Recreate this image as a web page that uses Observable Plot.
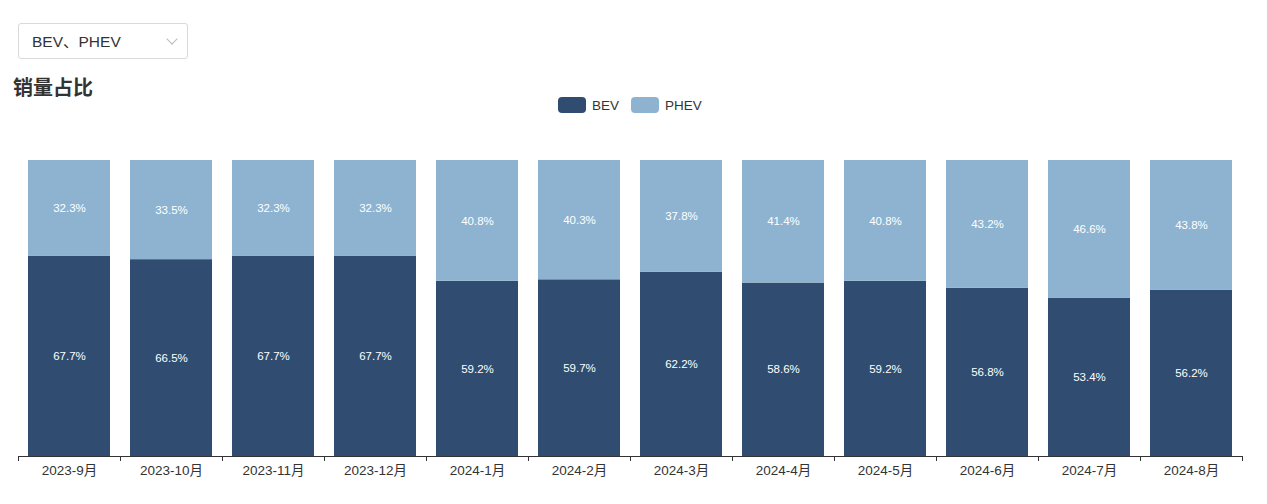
<!DOCTYPE html>
<html>
<head>
<meta charset="utf-8">
<script src="https://cdn.jsdelivr.net/npm/d3@7"></script>
<script src="https://cdn.jsdelivr.net/npm/@observablehq/plot@0.6"></script>
<style>
  body { margin: 0; background: #fff; font-family: "Helvetica Neue", Arial, "Liberation Sans", "Noto Sans CJK SC", sans-serif; color: #333; }
  #page { position: relative; width: 1267px; height: 504px; overflow: hidden; }
  #dropdown { position: absolute; left: 18px; top: 23px; width: 168px; height: 34px; border: 1px solid #d9d9d9; border-radius: 3px; box-sizing: content-box; }
  #dropdown .label { position: absolute; left: 13px; top: 5px; font-size: 15.5px; color: #333; }
  #dropdown .chev { position: absolute; left: 149px; top: 11px; width: 7px; height: 7px; border-right: 1px solid #bbb; border-bottom: 1px solid #bbb; transform: rotate(45deg); }
  #title { position: absolute; left: 13px; top: 72px; font-size: 20px; font-weight: bold; color: #333; font-family: "Noto Sans CJK SC", sans-serif; }
  #legend { position: absolute; left: 558px; top: 97px; display: flex; align-items: center; font-size: 13.5px; color: #333; }
  #legend .item { display: flex; align-items: center; margin-right: 12px; }
  #legend .sw { width: 28px; height: 16px; border-radius: 4px; margin-right: 6px; }
  #chart { position: absolute; left: 0; top: 130px; }
</style>
</head>
<body>
<div id="page">
  <div id="dropdown"><span class="label">BEV、PHEV</span><span class="chev"></span></div>
  <div id="title">销量占比</div>
  <div id="legend"></div>
  <div id="chart"></div>
</div>
<script>
const months = ["2023-9月","2023-10月","2023-11月","2023-12月","2024-1月","2024-2月","2024-3月","2024-4月","2024-5月","2024-6月","2024-7月","2024-8月"];
const series = ["BEV", "PHEV"];
const bev  = [67.7, 66.5, 67.7, 67.7, 59.2, 59.7, 62.2, 58.6, 59.2, 56.8, 53.4, 56.2];
const phev = [32.3, 33.5, 32.3, 32.3, 40.8, 40.3, 37.8, 41.4, 40.8, 43.2, 46.6, 43.8];
const colors = ["#304c70", "#8eb3d1"];

const data = [];
months.forEach((m, i) => {
  data.push({month: m, type: "BEV", value: bev[i]});
  data.push({month: m, type: "PHEV", value: phev[i]});
});

// legend
const legend = document.getElementById("legend");
series.forEach((s, i) => {
  const it = document.createElement("div");
  it.className = "item";
  it.innerHTML = `<span class="sw" style="background:${colors[i]}"></span><span>${s}</span>`;
  legend.appendChild(it);
});

const W = 1267, H = 374, ML = 18, MR = 25;
const step = (W - ML - MR) / months.length;

const chart = Plot.plot({
  width: W,
  height: H,
  marginTop: 30,
  marginBottom: 48,
  marginLeft: ML,
  marginRight: MR,
  style: {fontFamily: "'Helvetica Neue', Arial, 'Liberation Sans', 'Noto Sans CJK SC', sans-serif", background: "#fff"},
  x: {domain: months, paddingInner: 0.2, paddingOuter: 0.1, label: null},
  y: {domain: [0, 100], axis: null},
  color: {domain: series, range: colors},
  marks: [
    Plot.barY(data, Plot.stackY({x: "month", y: "value", fill: "type", z: "type"})),
    Plot.text(data, Plot.stackY({x: "month", y: "value", z: "type", text: d => d.value.toFixed(1) + "%", fill: "#fff", fontSize: 11.5})),
    Plot.ruleY([0], {stroke: "#333", strokeWidth: 1}),
    Plot.ruleX(months, {x: d => d, y1: 0, y2: 0, dx: -step / 2, insetBottom: -5, stroke: "#333"}),
    Plot.ruleX(months.slice(-1), {x: d => d, y1: 0, y2: 0, dx: step / 2, insetBottom: -5, stroke: "#333"}),
    Plot.axisX({tickSize: 0, tickPadding: 9, fontSize: 13.5, fill: "#333", label: null})
  ]
});
document.getElementById("chart").appendChild(chart);
</script>
</body>
</html>
